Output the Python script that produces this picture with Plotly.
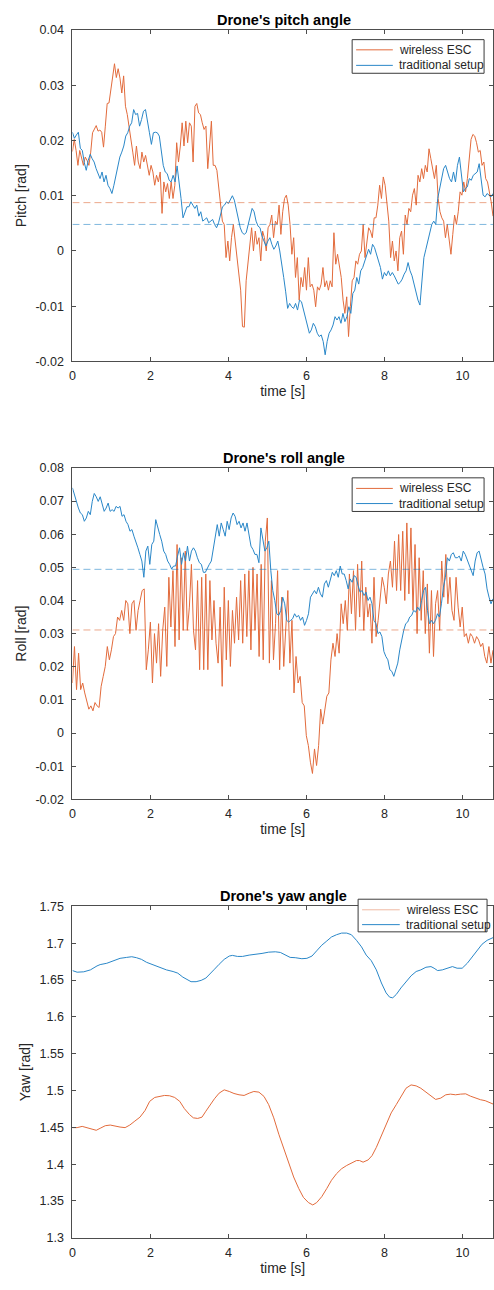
import numpy as np
import plotly.graph_objects as go

# ---------------- data ----------------
SERIES_NAMES = ["wireless ESC", "traditional setup"]
T_END = 10.78  # last sample time [s]

X_TICKS = [0, 2, 4, 6, 8, 10]
X_TICK_TEXT = ["0", "2", "4", "6", "8", "10"]

PITCH_TICKS = [-0.02, -0.01, 0.0, 0.01, 0.02, 0.03, 0.04]
PITCH_TICK_TEXT = ["-0.02", "-0.01", "0", "0.01", "0.02", "0.03", "0.04"]
ROLL_TICKS = [-0.02, -0.01, 0.0, 0.01, 0.02, 0.03, 0.04, 0.05, 0.06, 0.07, 0.08]
ROLL_TICK_TEXT = ["-0.02", "-0.01", "0", "0.01", "0.02", "0.03", "0.04", "0.05", "0.06", "0.07", "0.08"]
YAW_TICKS = [1.3, 1.35, 1.4, 1.45, 1.5, 1.55, 1.6, 1.65, 1.7, 1.75]
YAW_TICK_TEXT = ["1.3", "1.35", "1.4", "1.45", "1.5", "1.55", "1.6", "1.65", "1.7", "1.75"]

PITCH_WIRELESS = [
    0.0180, 0.0202, 0.0182, 0.0155, 0.0182, 0.0170, 0.0155, 0.0170, 0.0164, 0.0155,
    0.0179, 0.0214, 0.0220, 0.0227, 0.0217, 0.0219, 0.0215, 0.0188, 0.0226, 0.0267,
    0.0268, 0.0292, 0.0321, 0.0339, 0.0314, 0.0330, 0.0313, 0.0286, 0.0317, 0.0262,
    0.0247, 0.0226, 0.0208, 0.0179, 0.0155, 0.0190, 0.0161, 0.0149, 0.0179, 0.0161,
    0.0173, 0.0155, 0.0137, 0.0155, 0.0143, 0.0119, 0.0137, 0.0125, 0.0143, 0.0068,
    0.0125, 0.0107, 0.0122, 0.0095, 0.0125, 0.0095, 0.0119, 0.0196, 0.0161, 0.0190,
    0.0232, 0.0190, 0.0235, 0.0196, 0.0232, 0.0226, 0.0161, 0.0262, 0.0267, 0.0250,
    0.0247, 0.0232, 0.0220, 0.0226, 0.0149, 0.0190, 0.0235, 0.0155, 0.0155, 0.0146,
    0.0119, 0.0089, 0.0054, 0.0048, -0.0012, 0.0018, -0.0018, 0.0024, 0.0048, 0.0018,
    -0.0012, -0.0042, -0.0071, -0.0137, -0.0138, -0.0054, -0.0024, 0.0018, 0.0042, 0.0000,
    0.0036, 0.0012, 0.0024, -0.0018, 0.0036, 0.0024, 0.0000, 0.0042, 0.0048, 0.0065,
    0.0024, 0.0054, 0.0048, 0.0083, 0.0030, 0.0071, 0.0095, 0.0101, 0.0083, 0.0048,
    -0.0006, 0.0024, -0.0048, -0.0012, -0.0089, -0.0048, -0.0065, -0.0030, -0.0071, -0.0012,
    -0.0065, -0.0060, -0.0071, -0.0101, -0.0065, -0.0071, -0.0060, -0.0030, -0.0065, -0.0054,
    -0.0071, -0.0054, -0.0065, 0.0033, -0.0024, -0.0006, -0.0024, -0.0048, -0.0089, -0.0113,
    -0.0083, -0.0155, -0.0101, -0.0054, -0.0048, -0.0018, -0.0024, -0.0006, 0.0000, 0.0048,
    -0.0012, 0.0018, 0.0042, 0.0036, 0.0024, 0.0060, 0.0060, 0.0083, 0.0119, 0.0095,
    0.0134, 0.0119, 0.0089, 0.0054, -0.0012, 0.0018, -0.0018, 0.0000, -0.0036, 0.0024,
    0.0036, -0.0006, 0.0065, 0.0048, 0.0077, 0.0071, 0.0101, 0.0113, 0.0083, 0.0137,
    0.0125, 0.0149, 0.0131, 0.0155, 0.0143, 0.0185, 0.0167, 0.0149, 0.0131, 0.0155,
    0.0095, 0.0071, 0.0060, 0.0054, 0.0024, 0.0048, 0.0018, -0.0006, 0.0030, 0.0065,
    0.0048, 0.0071, 0.0107, 0.0101, 0.0125, 0.0107, 0.0131, 0.0167, 0.0202, 0.0211,
    0.0208, 0.0196, 0.0179, 0.0182, 0.0155, 0.0161, 0.0131, 0.0125, 0.0107, 0.0089,
    0.0063,
]

PITCH_TRAD = [
    0.0215, 0.0204, 0.0210, 0.0215, 0.0186, 0.0182, 0.0160, 0.0146, 0.0164, 0.0175,
    0.0167, 0.0161, 0.0149, 0.0140, 0.0131, 0.0143, 0.0125, 0.0137, 0.0119, 0.0113,
    0.0104, 0.0119, 0.0137, 0.0155, 0.0170, 0.0179, 0.0190, 0.0208, 0.0214, 0.0226,
    0.0232, 0.0256, 0.0247, 0.0249, 0.0226, 0.0238, 0.0253, 0.0256, 0.0238, 0.0214,
    0.0193, 0.0214, 0.0215, 0.0214, 0.0208, 0.0179, 0.0155, 0.0143, 0.0140, 0.0128,
    0.0125, 0.0137, 0.0125, 0.0154, 0.0128, 0.0095, 0.0060, 0.0071, 0.0080, 0.0080,
    0.0089, 0.0083, 0.0077, 0.0083, 0.0063, 0.0071, 0.0054, 0.0057, 0.0060, 0.0051,
    0.0054, 0.0057, 0.0048, 0.0042, 0.0051, 0.0065, 0.0080, 0.0083, 0.0089, 0.0086,
    0.0092, 0.0100, 0.0092, 0.0077, 0.0060, 0.0042, 0.0033, 0.0030, 0.0033, 0.0048,
    0.0065, 0.0077, 0.0071, 0.0054, 0.0045, 0.0042, 0.0027, 0.0018, 0.0009, 0.0018,
    0.0024, 0.0012, 0.0003, 0.0009, 0.0018, 0.0000, -0.0021, -0.0048, -0.0074, -0.0104,
    -0.0095, -0.0101, -0.0104, -0.0095, -0.0107, -0.0089, -0.0092, -0.0107, -0.0119, -0.0134,
    -0.0149, -0.0143, -0.0131, -0.0137, -0.0149, -0.0155, -0.0152, -0.0164, -0.0188, -0.0164,
    -0.0149, -0.0143, -0.0134, -0.0119, -0.0125, -0.0119, -0.0131, -0.0113, -0.0128, -0.0119,
    -0.0101, -0.0113, -0.0077, -0.0071, -0.0048, -0.0060, -0.0036, -0.0030, -0.0018, -0.0006,
    0.0003, -0.0006, 0.0012, 0.0006, -0.0006, -0.0015, -0.0030, -0.0051, -0.0039, -0.0045,
    -0.0036, -0.0045, -0.0039, -0.0045, -0.0054, -0.0060, -0.0057, -0.0051, -0.0042, -0.0036,
    -0.0021, -0.0036, -0.0045, -0.0060, -0.0074, -0.0089, -0.0098, -0.0048, -0.0012, 0.0003,
    0.0018, 0.0030, 0.0048, 0.0054, 0.0048, 0.0095, 0.0113, 0.0125, 0.0149, 0.0155,
    0.0143, 0.0131, 0.0125, 0.0143, 0.0125, 0.0155, 0.0170, 0.0143, 0.0107, 0.0113,
    0.0116, 0.0131, 0.0128, 0.0137, 0.0140, 0.0143, 0.0158, 0.0134, 0.0101, 0.0098,
    0.0104, 0.0101, 0.0098, 0.0104,
]

ROLL_WIRELESS = [
    0.0151, 0.0261, 0.0131, 0.0241, 0.0131, 0.0151, 0.0121, 0.0092, 0.0072, 0.0082,
    0.0067, 0.0092, 0.0082, 0.0077, 0.0141, 0.0171, 0.0201, 0.0261, 0.0221, 0.0251,
    0.0291, 0.0300, 0.0350, 0.0340, 0.0370, 0.0340, 0.0400, 0.0390, 0.0300, 0.0390,
    0.0400, 0.0310, 0.0370, 0.0400, 0.0430, 0.0435, 0.0191, 0.0251, 0.0335, 0.0151,
    0.0300, 0.0211, 0.0330, 0.0171, 0.0310, 0.0380, 0.0201, 0.0470, 0.0320, 0.0490,
    0.0261, 0.0569, 0.0281, 0.0529, 0.0310, 0.0549, 0.0310, 0.0380, 0.0509, 0.0310,
    0.0251, 0.0460, 0.0191, 0.0470, 0.0191, 0.0480, 0.0191, 0.0460, 0.0281, 0.0400,
    0.0271, 0.0211, 0.0380, 0.0141, 0.0440, 0.0221, 0.0400, 0.0201, 0.0370, 0.0271,
    0.0410, 0.0281, 0.0460, 0.0271, 0.0480, 0.0291, 0.0490, 0.0251, 0.0500, 0.0310,
    0.0480, 0.0231, 0.0509, 0.0221, 0.0579, 0.0649, 0.0211, 0.0460, 0.0221, 0.0330,
    0.0490, 0.0191, 0.0410, 0.0201, 0.0310, 0.0430, 0.0211, 0.0340, 0.0121, 0.0231,
    0.0151, 0.0171, 0.0092, 0.0082, -0.0008, -0.0038, -0.0088, -0.0122, -0.0048, -0.0098,
    -0.0038, 0.0072, 0.0027, 0.0072, 0.0111, 0.0121, 0.0221, 0.0271, 0.0231, 0.0300,
    0.0241, 0.0390, 0.0330, 0.0400, 0.0310, 0.0480, 0.0360, 0.0490, 0.0310, 0.0509,
    0.0350, 0.0519, 0.0310, 0.0440, 0.0350, 0.0390, 0.0271, 0.0470, 0.0291, 0.0340,
    0.0410, 0.0470, 0.0440, 0.0390, 0.0480, 0.0519, 0.0440, 0.0579, 0.0430, 0.0599,
    0.0430, 0.0609, 0.0400, 0.0634, 0.0420, 0.0619, 0.0370, 0.0569, 0.0300, 0.0529,
    0.0340, 0.0490, 0.0300, 0.0450, 0.0241, 0.0430, 0.0231, 0.0390, 0.0430, 0.0310,
    0.0519, 0.0410, 0.0539, 0.0390, 0.0470, 0.0370, 0.0340, 0.0470, 0.0380, 0.0320,
    0.0380, 0.0291, 0.0300, 0.0271, 0.0300, 0.0291, 0.0271, 0.0291, 0.0281, 0.0261,
    0.0271, 0.0231, 0.0211, 0.0261, 0.0211, 0.0250,
]

ROLL_TRAD = [
    0.0740, 0.0718, 0.0699, 0.0679, 0.0664, 0.0659, 0.0639, 0.0649, 0.0669, 0.0659,
    0.0699, 0.0723, 0.0713, 0.0699, 0.0713, 0.0689, 0.0669, 0.0679, 0.0694, 0.0669,
    0.0674, 0.0669, 0.0684, 0.0679, 0.0684, 0.0654, 0.0659, 0.0639, 0.0629, 0.0609,
    0.0614, 0.0594, 0.0579, 0.0559, 0.0539, 0.0519, 0.0470, 0.0549, 0.0564, 0.0509,
    0.0569, 0.0579, 0.0644, 0.0619, 0.0599, 0.0579, 0.0549, 0.0539, 0.0519, 0.0509,
    0.0495, 0.0504, 0.0504, 0.0534, 0.0559, 0.0509, 0.0544, 0.0519, 0.0564, 0.0519,
    0.0549, 0.0559, 0.0549, 0.0529, 0.0514, 0.0509, 0.0485, 0.0485, 0.0500, 0.0509,
    0.0519, 0.0559, 0.0594, 0.0629, 0.0594, 0.0634, 0.0614, 0.0594, 0.0639, 0.0614,
    0.0649, 0.0664, 0.0654, 0.0629, 0.0639, 0.0619, 0.0634, 0.0609, 0.0634, 0.0599,
    0.0564, 0.0554, 0.0539, 0.0539, 0.0514, 0.0619, 0.0579, 0.0549, 0.0559, 0.0579,
    0.0490, 0.0430, 0.0400, 0.0360, 0.0355, 0.0370, 0.0410, 0.0390, 0.0340, 0.0335,
    0.0340, 0.0345, 0.0360, 0.0350, 0.0355, 0.0340, 0.0350, 0.0325, 0.0340, 0.0360,
    0.0410, 0.0420, 0.0430, 0.0420, 0.0440, 0.0420, 0.0410, 0.0450, 0.0460, 0.0440,
    0.0465, 0.0485, 0.0475, 0.0490, 0.0470, 0.0504, 0.0480, 0.0480, 0.0460, 0.0435,
    0.0465, 0.0455, 0.0475, 0.0470, 0.0445, 0.0425, 0.0430, 0.0415, 0.0425, 0.0400,
    0.0410, 0.0390, 0.0340, 0.0330, 0.0300, 0.0305, 0.0291, 0.0246, 0.0231, 0.0221,
    0.0191, 0.0186, 0.0171, 0.0191, 0.0211, 0.0251, 0.0286, 0.0310, 0.0330, 0.0335,
    0.0350, 0.0355, 0.0370, 0.0365, 0.0380, 0.0370, 0.0400, 0.0430, 0.0440, 0.0370,
    0.0330, 0.0340, 0.0330, 0.0340, 0.0360, 0.0350, 0.0390, 0.0440, 0.0470, 0.0529,
    0.0519, 0.0539, 0.0544, 0.0529, 0.0529, 0.0534, 0.0519, 0.0549, 0.0539, 0.0524,
    0.0509, 0.0495, 0.0475, 0.0519, 0.0544, 0.0549, 0.0519, 0.0500, 0.0480, 0.0435,
    0.0410, 0.0390, 0.0405,
]

YAW_WIRELESS_T = [
    0.00, 0.12, 0.25, 0.37, 0.50, 0.61, 0.71, 0.84, 0.97, 1.09,
    1.22, 1.35, 1.47, 1.60, 1.73, 1.86, 1.98, 2.11, 2.24, 2.36,
    2.49, 2.62, 2.75, 2.87, 3.00, 3.10, 3.21, 3.32, 3.42, 3.53,
    3.64, 3.76, 3.89, 4.02, 4.14, 4.27, 4.40, 4.53, 4.65, 4.78,
    4.91, 5.03, 5.16, 5.29, 5.42, 5.54, 5.67, 5.80, 5.92, 6.05,
    6.16, 6.26, 6.39, 6.52, 6.64, 6.77, 6.90, 7.03, 7.15, 7.28,
    7.36, 7.45, 7.58, 7.68, 7.79, 7.92, 8.04, 8.17, 8.30, 8.42,
    8.55, 8.68, 8.81, 8.93, 9.06, 9.19, 9.31, 9.44, 9.57, 9.69,
    9.82, 9.95, 10.08, 10.20, 10.33, 10.46, 10.58, 10.71, 10.78,
]
YAW_WIRELESS = [
    1.4496, 1.4496, 1.4513, 1.4496, 1.4469, 1.4460, 1.4487, 1.4522, 1.4531, 1.4513,
    1.4504, 1.4496, 1.4531, 1.4585, 1.4638, 1.4728, 1.4853, 1.4906, 1.4924, 1.4933,
    1.4929, 1.4906, 1.4853, 1.4754, 1.4674, 1.4629, 1.4621, 1.4638, 1.4719, 1.4808,
    1.4888, 1.4964, 1.5009, 1.4987, 1.4960, 1.4942, 1.4933, 1.4964, 1.4987, 1.4978,
    1.4920, 1.4808, 1.4629, 1.4406, 1.4205, 1.4004, 1.3826, 1.3670, 1.3549, 1.3478,
    1.3446, 1.3478, 1.3558, 1.3670, 1.3781, 1.3871, 1.3938, 1.3982, 1.4018, 1.4049,
    1.4049, 1.4027, 1.4058, 1.4116, 1.4228, 1.4384, 1.4549, 1.4696, 1.4808, 1.4920,
    1.5031, 1.5076, 1.5063, 1.5031, 1.4978, 1.4920, 1.4879, 1.4897, 1.4942, 1.4951,
    1.4942, 1.4951, 1.4955, 1.4924, 1.4897, 1.4875, 1.4862, 1.4830, 1.4817,
]

YAW_TRAD_T = [
    0.00, 0.12, 0.29, 0.46, 0.63, 0.71, 0.88, 1.05, 1.22, 1.39,
    1.52, 1.64, 1.77, 1.90, 2.07, 2.24, 2.41, 2.58, 2.70, 2.83,
    2.96, 3.04, 3.17, 3.30, 3.42, 3.51, 3.64, 3.76, 3.89, 4.02,
    4.10, 4.23, 4.36, 4.53, 4.69, 4.86, 5.03, 5.20, 5.33, 5.46,
    5.58, 5.71, 5.88, 6.01, 6.14, 6.26, 6.39, 6.52, 6.64, 6.77,
    6.90, 7.03, 7.15, 7.28, 7.41, 7.53, 7.66, 7.79, 7.92, 8.04,
    8.13, 8.21, 8.30, 8.42, 8.55, 8.68, 8.81, 8.93, 9.06, 9.19,
    9.27, 9.36, 9.48, 9.61, 9.74, 9.86, 9.99, 10.12, 10.25, 10.37,
    10.50, 10.63, 10.78,
]
YAW_TRAD = [
    1.6629, 1.6607, 1.6612, 1.6638, 1.6692, 1.6710, 1.6728, 1.6763, 1.6795, 1.6808,
    1.6817, 1.6804, 1.6781, 1.6741, 1.6705, 1.6670, 1.6638, 1.6616, 1.6594, 1.6540,
    1.6496, 1.6478, 1.6478, 1.6496, 1.6527, 1.6571, 1.6647, 1.6714, 1.6781, 1.6826,
    1.6835, 1.6821, 1.6821, 1.6839, 1.6848, 1.6862, 1.6879, 1.6884, 1.6875, 1.6839,
    1.6808, 1.6804, 1.6790, 1.6795, 1.6826, 1.6897, 1.6973, 1.7031, 1.7085, 1.7116,
    1.7138, 1.7138, 1.7116, 1.7040, 1.6951, 1.6839, 1.6763, 1.6638, 1.6460, 1.6326,
    1.6268, 1.6259, 1.6304, 1.6393, 1.6482, 1.6558, 1.6616, 1.6638, 1.6674, 1.6683,
    1.6661, 1.6629, 1.6638, 1.6656, 1.6683, 1.6661, 1.6661, 1.6728, 1.6817, 1.6906,
    1.6987, 1.7040, 1.7076,
]

# mean (dashed) levels
PITCH_MEAN_WIRELESS = 0.00875
PITCH_MEAN_TRAD = 0.0048
ROLL_MEAN_WIRELESS = 0.0311
ROLL_MEAN_TRAD = 0.0494

# ---------------- styling ----------------
W, H = 494, 1290
ORANGE = "#E26B3C"
BLUE = "#2A87C8"
ORANGE_DASH = "rgba(217,83,25,0.5)"
BLUE_DASH = "rgba(0,114,189,0.5)"
AXIS_COL = "#4d4d4d"
TEXT_COL = "#262626"
FONT = "Liberation Sans, Arial, Helvetica, sans-serif"


def px(x):
    return x / W


def py(y):
    return 1 - y / H


X_DOM = [px(70), 1.0]
PANELS = [
    # (suffix, y-domain px top/bottom, title, y label, ticks, ticktext, range)
    ("", (23.3, 358.3), "Drone's pitch angle", "Pitch [rad]", PITCH_TICKS, PITCH_TICK_TEXT, [-0.02, 0.04]),
    ("2", (466.0, 801.0), "Drone's roll angle", "Roll [rad]", ROLL_TICKS, ROLL_TICK_TEXT, [-0.02, 0.08]),
    ("3", (909.3, 1244.3), "Drone's yaw angle", "Yaw [rad]", YAW_TICKS, YAW_TICK_TEXT, [1.3, 1.75]),
]

fig = go.Figure()


def add_line(x, y, sfx, color, name, dash=None):
    fig.add_trace(go.Scatter(
        x=x, y=y, mode="lines", name=name, showlegend=False,
        xaxis="x" + sfx, yaxis="y" + sfx,
        line=dict(color=color, width=1, dash=dash),
        hoverinfo="skip",
    ))


t_pw = np.linspace(0, T_END, len(PITCH_WIRELESS))
t_pt = np.linspace(0, T_END, len(PITCH_TRAD))
t_rw = np.linspace(0, T_END, len(ROLL_WIRELESS))
t_rt = np.linspace(0, T_END, len(ROLL_TRAD))

add_line(t_pw, PITCH_WIRELESS, "", ORANGE, SERIES_NAMES[0])
add_line(t_pt, PITCH_TRAD, "", BLUE, SERIES_NAMES[1])
add_line([0, T_END], [PITCH_MEAN_WIRELESS] * 2, "", ORANGE_DASH, "mean " + SERIES_NAMES[0], "7px,4px")
add_line([0, T_END], [PITCH_MEAN_TRAD] * 2, "", BLUE_DASH, "mean " + SERIES_NAMES[1], "7px,4px")

add_line(t_rw, ROLL_WIRELESS, "2", ORANGE, SERIES_NAMES[0])
add_line(t_rt, ROLL_TRAD, "2", BLUE, SERIES_NAMES[1])
add_line([0, T_END], [ROLL_MEAN_WIRELESS] * 2, "2", ORANGE_DASH, "mean " + SERIES_NAMES[0], "7px,4px")
add_line([0, T_END], [ROLL_MEAN_TRAD] * 2, "2", BLUE_DASH, "mean " + SERIES_NAMES[1], "7px,4px")

add_line(YAW_WIRELESS_T, YAW_WIRELESS, "3", ORANGE, SERIES_NAMES[0])
add_line(YAW_TRAD_T, YAW_TRAD, "3", BLUE, SERIES_NAMES[1])

layout = dict(
    width=W, height=H,
    margin=dict(l=0, r=0, t=0, b=0),
    paper_bgcolor="white", plot_bgcolor="white",
    font=dict(family=FONT, color=TEXT_COL, size=12),
    showlegend=False,
    shapes=[], annotations=[],
)

for sfx, (ytop, ybot), title, ylab, ticks, ticktext, yr in PANELS:
    layout["xaxis" + sfx] = dict(
        domain=X_DOM, anchor="y" + sfx, range=[0, T_END],
        tickmode="array", tickvals=X_TICKS, ticktext=X_TICK_TEXT,
        ticks="inside", ticklen=4, tickwidth=1, tickcolor=AXIS_COL,
        showline=True, linecolor=AXIS_COL, linewidth=1, mirror="ticks",
        showgrid=False, zeroline=False, ticklabelstandoff=3,
        tickfont=dict(size=12.5, color=TEXT_COL, family=FONT),
        title=dict(text="time [s]", font=dict(size=14, color=TEXT_COL, family=FONT), standoff=3),
    )
    layout["yaxis" + sfx] = dict(
        domain=[py(ybot), py(ytop)], anchor="x" + sfx, range=yr,
        tickmode="array", tickvals=ticks, ticktext=ticktext,
        ticks="inside", ticklen=4, tickwidth=1, tickcolor=AXIS_COL,
        showline=True, linecolor=AXIS_COL, linewidth=1, mirror="ticks",
        showgrid=False, zeroline=False, ticklabelstandoff=5,
        tickfont=dict(size=12.5, color=TEXT_COL, family=FONT),
        title=dict(text=ylab, font=dict(size=14, color=TEXT_COL, family=FONT), standoff=5),
    )
    layout["annotations"].append(dict(
        text="<b>" + title + "</b>", xref="paper", yref="paper",
        x=px(283), y=py(ytop - 10.5), xanchor="center", yanchor="middle",
        showarrow=False, font=dict(size=14.5, color="#000000", family=FONT),
    ))

# legend boxes (drawn as boxes with sample lines + labels)
LEGENDS = [
    # box x0, x1, y0, y1, sample x0, x1, text x, row ys, colors
    (352, 485, 33, 67, 356, 393, 397, (43.3, 59.0), (ORANGE, BLUE)),
    (352, 485, 476, 510, 356, 393, 397, (486.7, 502.0), (ORANGE, BLUE)),
    (358, 488, 902, 935, 362, 400, 404, (912.7, 927.7), ("rgba(217,83,25,0.4)", BLUE)),
]
for bx0, bx1, by0, by1, sx0, sx1, tx, rows, cols in LEGENDS:
    layout["shapes"].append(dict(
        type="rect", xref="paper", yref="paper",
        x0=px(bx0), x1=px(bx1), y0=py(by1), y1=py(by0),
        line=dict(color="#3a3a3a", width=1), fillcolor="white", layer="above",
    ))
    for ry, col, name in zip(rows, cols, SERIES_NAMES):
        layout["shapes"].append(dict(
            type="line", xref="paper", yref="paper",
            x0=px(sx0), x1=px(sx1), y0=py(ry), y1=py(ry),
            line=dict(color=col, width=1), layer="above",
        ))
        layout["annotations"].append(dict(
            text=name, xref="paper", yref="paper", x=px(tx), y=py(ry),
            xanchor="left", yanchor="middle", showarrow=False,
            font=dict(size=12, color=TEXT_COL, family=FONT),
        ))

fig.update_layout(**layout)
fig.write_html("out.html")
